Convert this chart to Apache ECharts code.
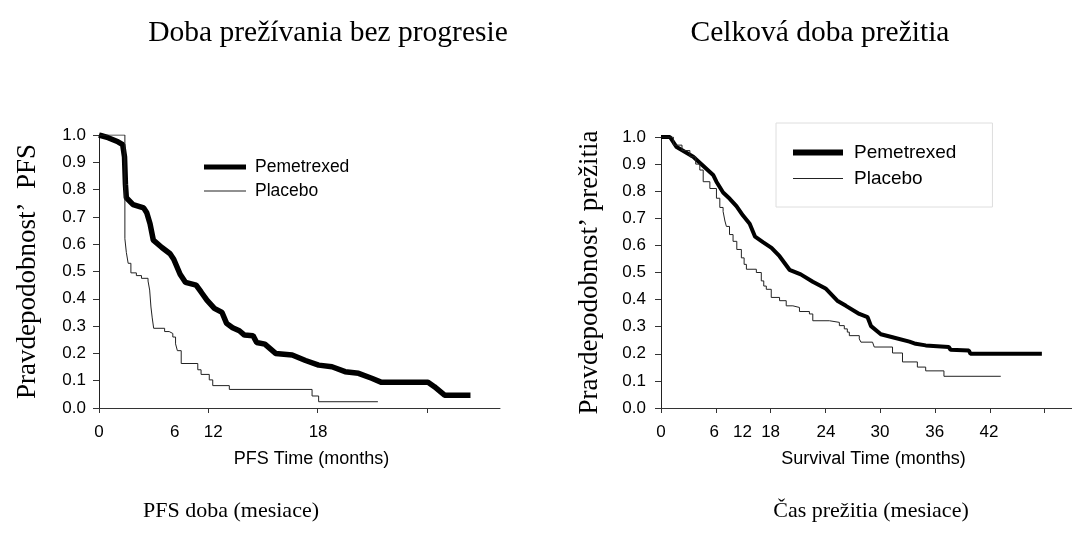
<!DOCTYPE html>
<html>
<head>
<meta charset="utf-8">
<script src="https://cdn.jsdelivr.net/npm/echarts@6/dist/echarts.min.js"></script>
<style>
  html, body { margin: 0; padding: 0; background: #fff; }
  #chart { width: 1072px; height: 549px; }
</style>
</head>
<body>
<div id="chart"></div>
<script>
// PFS (left panel), [months, probability]
const pfsPemetrexed = [
  [0, 1.0], [0.5, 0.99], [1.04, 0.975], [1.3, 0.965], [1.4, 0.92], [1.45, 0.82], [1.5, 0.77],
  [1.87, 0.745], [2.45, 0.733], [2.62, 0.715], [2.8, 0.675], [2.98, 0.615], [3.45, 0.588],
  [3.9, 0.565], [4.1, 0.545], [4.45, 0.49], [4.75, 0.46], [5.33, 0.45], [5.6, 0.425],
  [5.92, 0.395], [6.33, 0.365], [6.75, 0.35], [7.0, 0.31], [7.33, 0.294], [7.7, 0.283],
  [7.98, 0.267], [8.45, 0.265], [8.65, 0.24], [9.1, 0.234], [9.69, 0.2], [10.6, 0.194],
  [11.33, 0.174], [12.05, 0.157], [12.78, 0.151], [13.5, 0.133], [14.24, 0.127],
  [14.96, 0.109], [15.5, 0.094], [18.05, 0.094], [18.4, 0.078], [18.96, 0.047], [20.38, 0.047]
];
const pfsPlacebo = [
  [0, 1.0], [1.42, 0.62], [1.5, 0.57], [1.6, 0.53], [1.75, 0.495], [2.05, 0.485], [2.33, 0.475],
  [2.69, 0.465], [2.78, 0.432], [2.85, 0.37], [2.92, 0.33], [3.0, 0.292], [3.6, 0.28],
  [3.85, 0.273], [4.05, 0.26], [4.2, 0.235], [4.3, 0.21], [4.51, 0.163], [5.42, 0.14],
  [5.6, 0.123], [6.05, 0.103], [6.24, 0.082], [7.15, 0.068], [11.69, 0.044], [12.05, 0.023],
  [15.3, 0.023]
];

// OS (right panel), [months, probability]
const osPemetrexed = [
  [0, 1.0], [0.98, 1.0], [1.71, 0.963], [3.53, 0.927], [5.71, 0.86], [6.07, 0.835],
  [6.8, 0.795], [7.53, 0.772], [8.26, 0.745], [8.98, 0.71], [9.71, 0.68], [10.3, 0.632],
  [11.16, 0.612], [12.1, 0.591], [12.98, 0.56], [14.07, 0.51], [15.3, 0.493], [16.62, 0.466],
  [18.07, 0.44], [19.3, 0.396], [20.25, 0.377], [21.71, 0.347], [22.62, 0.335], [23.0, 0.302],
  [24.07, 0.272], [25.35, 0.261], [27.2, 0.245], [27.89, 0.237], [28.98, 0.231], [31.5, 0.225],
  [31.71, 0.215], [33.71, 0.212], [33.89, 0.2], [41.7, 0.2]
];
const osPlacebo = [
  [0, 1.0], [1.35, 0.97], [2.3, 0.95], [3.16, 0.927], [3.8, 0.9], [4.25, 0.878], [4.62, 0.835],
  [5.35, 0.81], [6.07, 0.774], [6.44, 0.74], [6.8, 0.725], [7.0, 0.69], [7.16, 0.67], [7.5, 0.64],
  [7.89, 0.615], [8.3, 0.585], [8.8, 0.554], [9.1, 0.53], [9.35, 0.512], [10.44, 0.5],
  [10.98, 0.469], [11.25, 0.45], [11.53, 0.438], [12.07, 0.408], [12.98, 0.396], [13.71, 0.377],
  [14.44, 0.371], [15.16, 0.356], [16.25, 0.347], [16.62, 0.322], [18.44, 0.316], [19.53, 0.304],
  [20.07, 0.292], [20.4, 0.28], [20.62, 0.267], [21.71, 0.255], [21.89, 0.243], [23.16, 0.237],
  [23.35, 0.225], [25.35, 0.203], [26.44, 0.17], [28.07, 0.151], [28.98, 0.137], [30.98, 0.117],
  [37.2, 0.117]
];

// tick marks every 6 months; the printed labels sit off the ticks in the source
const pfsTicks = [0, 6, 12, 18];
const pfsLabelPos = [0, 4.15, 6.27, 12.02];
const pfsLabelText = ['0', '6', '12', '18'];
const osTicks = [0, 6, 12, 18, 24, 30, 36, 42];
const osLabelPos = [0, 5.82, 8.91, 12.0, 18.07, 23.98, 29.98, 35.9];
const osLabelText = ['0', '6', '12', '18', '24', '30', '36', '42'];

const SANS = 'Liberation Sans';
const SERIF = 'Liberation Serif';

// legend icons drawn as flat bars so they look like the line widths
const thickIcon = 'path://M0,0 H45 V5.5 H0 Z';
const thinIcon = 'path://M0,0 H45 V1 H0 Z';

function xAxisFor(idx, max, ticks, labelPos, labelText, name, namePad) {
  return {
    type: 'value', gridIndex: idx, min: 0, max: max,
    name: name, nameLocation: 'middle', nameGap: 42,
    nameTextStyle: { fontFamily: SANS, fontSize: 18, color: '#000', padding: namePad },
    axisLine: { show: true, lineStyle: { color: '#333', width: 1 } },
    axisTick: { show: true, length: 5, customValues: ticks, lineStyle: { color: '#333' } },
    axisLabel: {
      customValues: labelPos, margin: 16,
      fontFamily: SANS, fontSize: 17, color: '#000',
      formatter: v => { const i = labelPos.indexOf(v); return i >= 0 ? labelText[i] : ''; }
    },
    splitLine: { show: false }
  };
}

function yAxisFor(idx, name, margin) {
  return {
    type: 'value', gridIndex: idx, min: 0, max: 1, interval: 0.1,
    name: name, nameLocation: 'middle', nameGap: 58,
    nameTextStyle: { fontFamily: SERIF, fontSize: 27, color: '#000' },
    axisLine: { show: true, lineStyle: { color: '#222', width: 1 } },
    axisTick: { show: true, length: 6, lineStyle: { color: '#333' } },
    axisLabel: { margin: margin, fontFamily: SANS, fontSize: 17, color: '#000', formatter: v => v.toFixed(1) },
    splitLine: { show: false }
  };
}

const titleFont = { fontFamily: SERIF, fontSize: 29.5, fontWeight: 'normal', color: '#000' };
const footFont = { fontFamily: SERIF, fontSize: 22, fontWeight: 'normal', color: '#000' };

const chart = echarts.init(document.getElementById('chart'), null, { renderer: 'canvas' });

chart.setOption({
  backgroundColor: '#fff',
  animation: false,
  title: [
    { text: 'Doba prežívania bez progresie', left: 328, top: 18, textAlign: 'center', padding: 0, textStyle: titleFont },
    { text: 'Celková doba prežitia', left: 820, top: 18, textAlign: 'center', padding: 0, textStyle: titleFont },
    { text: 'PFS doba (mesiace)', left: 231, top: 500, textAlign: 'center', padding: 0, textStyle: footFont },
    { text: 'Čas prežitia (mesiace)', left: 871, top: 500, textAlign: 'center', padding: 0, textStyle: footFont }
  ],
  legend: [
    {
      orient: 'vertical', left: 204, top: 158, padding: 0, itemGap: 6,
      itemWidth: 42, itemHeight: 20,
      data: [{ name: 'Pemetrexed', icon: thickIcon }, { name: 'Placebo', icon: thinIcon }],
      textStyle: { fontFamily: SANS, fontSize: 17.5, color: '#000', padding: [0, 0, 0, 4] }
    },
    {
      orient: 'vertical', left: 776, top: 123, padding: [20, 36, 19, 17], itemGap: 7,
      itemWidth: 50, itemHeight: 20,
      borderColor: '#dedede', borderWidth: 1,
      data: [{ name: 'Pemetrexed', icon: thickIcon }, { name: 'Placebo', icon: thinIcon }],
      textStyle: { fontFamily: SANS, fontSize: 19, color: '#000', padding: [0, 0, 0, 6] }
    }
  ],
  grid: [
    { left: 99, top: 135, width: 401, height: 273 },
    { left: 661, top: 137, width: 411, height: 271 }
  ],
  xAxis: [
    xAxisFor(0, 22, pfsTicks, pfsLabelPos, pfsLabelText, 'PFS Time (months)', [0, 0, 0, 24]),
    xAxisFor(1, 45, osTicks, osLabelPos, osLabelText, 'Survival Time (months)', [0, 0, 0, 14])
  ],
  yAxis: [
    yAxisFor(0, 'Pravdepodobnost’  PFS', 13),
    yAxisFor(1, 'Pravdepodobnost’ prežitia', 15)
  ],
  series: [
    { name: 'Pemetrexed', type: 'line', xAxisIndex: 0, yAxisIndex: 0, data: pfsPemetrexed,
      symbol: 'none', lineStyle: { color: '#000', width: 5.5 }, itemStyle: { color: '#000' } },
    { name: 'Placebo', type: 'line', xAxisIndex: 0, yAxisIndex: 0, data: pfsPlacebo, step: 'end',
      symbol: 'none', lineStyle: { color: '#222', width: 1 }, itemStyle: { color: '#222' } },
    { name: 'Pemetrexed', type: 'line', xAxisIndex: 1, yAxisIndex: 1, data: osPemetrexed,
      symbol: 'none', lineStyle: { color: '#000', width: 4 }, itemStyle: { color: '#000' } },
    { name: 'Placebo', type: 'line', xAxisIndex: 1, yAxisIndex: 1, data: osPlacebo, step: 'end',
      symbol: 'none', lineStyle: { color: '#222', width: 1 }, itemStyle: { color: '#222' } }
  ]
});
</script>
</body>
</html>
